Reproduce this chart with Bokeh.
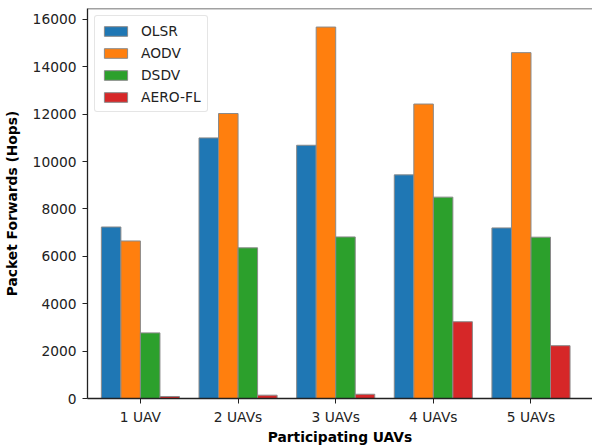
from bokeh.plotting import figure
from bokeh.models import ColumnDataSource, Range1d, FixedTicker, Legend, LegendItem, Span
from bokeh.transform import dodge
from bokeh.embed import file_html
from bokeh.resources import INLINE

categories = ["1 UAV", "2 UAVs", "3 UAVs", "4 UAVs", "5 UAVs"]
series_names = ["OLSR", "AODV", "DSDV", "AERO-FL"]
olsr = [7240, 11000, 10690, 9440, 7200]
aodv = [6650, 12030, 15680, 12430, 14600]
dsdv = [2770, 6360, 6820, 8500, 6810]
aero_fl = [85, 140, 180, 3240, 2230]
colors = ["#1f77b4", "#ff7f0e", "#2ca02c", "#d62728"]
offsets = [-0.3, -0.1, 0.1, 0.3]
yticks = [0, 2000, 4000, 6000, 8000, 10000, 12000, 14000, 16000]

idx = list(range(len(categories)))
src = ColumnDataSource(dict(x=idx, OLSR=olsr, AODV=aodv, DSDV=dsdv, AERO=aero_fl))
cols = ["OLSR", "AODV", "DSDV", "AERO"]

FONT = "DejaVu Sans"
FS = "13.8px"

p = figure(width=592, height=447, output_backend="svg", toolbar_location=None,
           x_range=Range1d(-0.542, 4.63), y_range=Range1d(0, 16463),
           min_border_left=80, min_border_right=0, min_border_top=8, min_border_bottom=47)
p.outline_line_color = None
p.grid.visible = False

renderers = []
for col, name, c, off in zip(cols, series_names, colors, offsets):
    r = p.vbar(x=dodge("x", off, range=p.x_range), top=col, width=0.2, source=src,
               fill_color=c, line_color="#8a8a8a", line_width=1)
    renderers.append((name, r))

top_line = Span(location=16463, dimension="width", line_color="#444444", line_width=1.5)
p.add_layout(top_line)

p.xaxis.ticker = FixedTicker(ticks=idx)
p.xaxis.major_label_overrides = {i: c for i, c in enumerate(categories)}
p.yaxis.ticker = FixedTicker(ticks=yticks)
for ax in (p.xaxis, p.yaxis):
    ax.major_label_text_font = FONT
    ax.major_label_text_font_size = FS
    ax.major_label_text_color = "#222222"
    ax.axis_label_text_font = FONT
    ax.axis_label_text_font_size = FS
    ax.axis_label_text_font_style = "bold"
    ax.axis_label_text_color = "#000000"
    ax.minor_tick_line_color = None
    ax.major_tick_out = 5
    ax.major_tick_in = 0
    ax.axis_line_color = "#222222"
    ax.major_tick_line_color = "#222222"
    ax.axis_line_width = 1.3
p.xaxis.axis_label = "Participating UAVs"
p.yaxis.axis_label = "Packet Forwards (Hops)"
p.xaxis.major_label_standoff = 5
p.xaxis.axis_label_standoff = 1
p.yaxis.major_label_standoff = 6
p.yaxis.axis_label_standoff = 10

legend = Legend(items=[LegendItem(label=n, renderers=[r]) for n, r in renderers],
                location="top_left")
legend.label_text_font = FONT
legend.label_text_font_size = FS
legend.label_text_color = "#222222"
legend.glyph_width = 29
legend.glyph_height = 12
legend.label_height = 17
legend.spacing = 5
legend.padding = 6
legend.margin = 7
legend.label_standoff = 11
legend.border_line_color = "#cccccc"
legend.border_radius = 3
legend.background_fill_alpha = 0.85
p.add_layout(legend)

open("out.html", "w").write(file_html(p, INLINE))
